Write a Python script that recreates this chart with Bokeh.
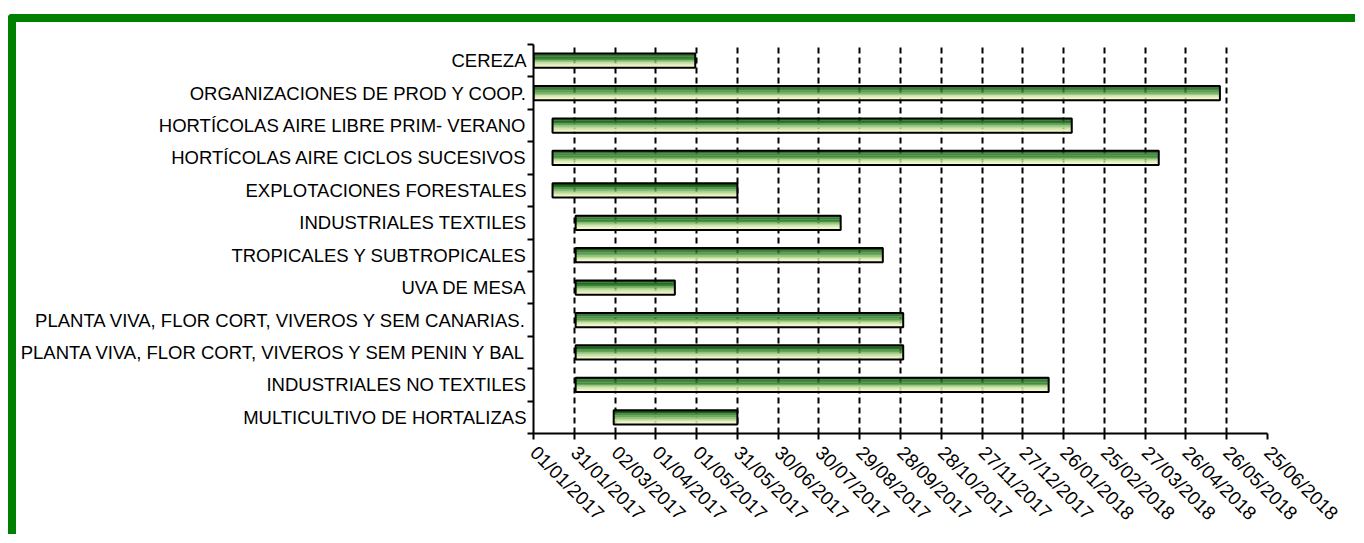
import datetime as dt
import math
import numpy as np
from bokeh.plotting import figure
from bokeh.models import Range1d, FixedTicker, DatetimeTickFormatter, ColumnDataSource
from bokeh.embed import file_html
from bokeh.resources import INLINE

# ---------------- data ----------------
categories = [
    "CEREZA",
    "ORGANIZACIONES DE PROD Y COOP.",
    "HORTÍCOLAS AIRE LIBRE PRIM- VERANO",
    "HORTÍCOLAS AIRE CICLOS SUCESIVOS",
    "EXPLOTACIONES FORESTALES",
    "INDUSTRIALES TEXTILES",
    "TROPICALES Y SUBTROPICALES",
    "UVA DE MESA",
    "PLANTA VIVA, FLOR CORT, VIVEROS Y SEM CANARIAS.",
    "PLANTA VIVA, FLOR CORT, VIVEROS Y SEM PENIN Y BAL",
    "INDUSTRIALES NO TEXTILES",
    "MULTICULTIVO DE HORTALIZAS",
]
start_dates = [
    "01/01/2017", "01/01/2017", "15/01/2017", "15/01/2017", "15/01/2017",
    "01/02/2017", "01/02/2017", "01/02/2017", "01/02/2017", "01/02/2017",
    "01/02/2017", "01/03/2017",
]
end_dates = [
    "30/04/2017", "21/05/2018", "01/02/2018", "06/04/2018", "31/05/2017",
    "15/08/2017", "15/09/2017", "15/04/2017", "30/09/2017", "30/09/2017",
    "15/01/2018", "31/05/2017",
]
tick_labels = [
    "01/01/2017", "31/01/2017", "02/03/2017", "01/04/2017", "01/05/2017",
    "31/05/2017", "30/06/2017", "30/07/2017", "29/08/2017", "28/09/2017",
    "28/10/2017", "27/11/2017", "27/12/2017", "26/01/2018", "25/02/2018",
    "27/03/2018", "26/04/2018", "26/05/2018", "25/06/2018",
]


def to_ms(s):
    d = dt.datetime.strptime(s, "%d/%m/%Y").replace(tzinfo=dt.timezone.utc)
    return d.timestamp() * 1000.0


starts = np.array([to_ms(s) for s in start_dates])
ends = np.array([to_ms(s) for s in end_dates])
ticks = [to_ms(s) for s in tick_labels]
n = len(categories)
ycenters = np.array([n - 0.5 - i for i in range(n)])

FONT = "Liberation Sans"

p = figure(
    width=1347, height=520,
    output_backend="svg", toolbar_location=None,
    x_axis_type="datetime",
    x_range=Range1d(ticks[0], ticks[-1]),
    y_range=Range1d(0, n),
    min_border_left=517, min_border_right=96,
    min_border_top=22, min_border_bottom=109,
)
p.styles = {
    "border-left": "8px solid #008000",
    "border-top": "8px solid #008000",
    "border-top-left-radius": "4px",
    "margin-left": "8px",
    "margin-top": "14px",
}
p.outline_line_color = None
p.background_fill_color = "white"
p.border_fill_color = "white"

# ---------------- gradient bars ----------------
H = 0.44
N = 16
stops = [
    (0.0, (0, 70, 0)),
    (0.42, (70, 145, 60)),
    (0.65, (180, 215, 145)),
    (0.85, (238, 243, 192)),
    (1.0, (250, 250, 214)),
]


def color_at(t):
    for (t0, c0), (t1, c1) in zip(stops[:-1], stops[1:]):
        if t <= t1:
            f = (t - t0) / (t1 - t0)
            c = [round(a + (b - a) * f) for a, b in zip(c0, c1)]
            return "#%02x%02x%02x" % tuple(c)
    return "#%02x%02x%02x" % stops[-1][1]


for k in range(N):
    t = (k + 0.5) / N
    yk = ycenters + H / 2 - (k + 0.5) * H / N
    src = ColumnDataSource(dict(y=yk, left=starts, right=ends))
    p.hbar(y="y", left="left", right="right", height=H / N * 1.15, source=src,
           fill_color=color_at(t), line_color=None)

outline_src = ColumnDataSource(dict(y=ycenters, left=starts, right=ends, name=categories))
p.hbar(y="y", left="left", right="right", height=H, source=outline_src,
       fill_alpha=0, line_color="black", line_width=2)

# ---------------- axes ----------------
xt = FixedTicker(ticks=ticks)
p.xaxis.ticker = xt
p.xgrid.ticker = xt
fmt = "%d/%m/%Y"
p.xaxis.formatter = DatetimeTickFormatter(
    milliseconds=fmt, seconds=fmt, minsec=fmt, minutes=fmt, hourmin=fmt,
    hours=fmt, days=fmt, months=fmt, years=fmt)
p.xaxis.major_label_orientation = -math.pi / 4
p.xaxis.major_label_text_font = FONT
p.xaxis.major_label_text_font_size = "19px"
p.xaxis.major_label_text_color = "black"
p.xaxis.major_tick_out = 6
p.xaxis.major_tick_in = 0
p.xaxis.minor_tick_out = 0
p.xaxis.minor_tick_in = 0
p.xaxis.axis_line_width = 2
p.xaxis.axis_line_color = "black"
p.xaxis.major_tick_line_width = 2
p.xaxis.major_tick_line_color = "black"
p.xaxis.major_label_standoff = 10

p.xgrid.grid_line_color = "black"
p.xgrid.grid_line_dash = "6 4"
p.xgrid.grid_line_width = 2
p.ygrid.grid_line_color = None

yt = FixedTicker(ticks=list(ycenters), minor_ticks=list(range(n + 1)))
p.yaxis.ticker = yt
p.yaxis.major_label_overrides = {float(y): c for y, c in zip(ycenters, categories)}
p.yaxis.major_label_text_font = FONT
p.yaxis.major_label_text_font_size = "18.5px"
p.yaxis.major_label_text_color = "black"
p.yaxis.major_tick_out = 0
p.yaxis.major_tick_in = 0
p.yaxis.minor_tick_out = 6
p.yaxis.minor_tick_in = 0
p.yaxis.minor_tick_line_color = "black"
p.yaxis.minor_tick_line_width = 2
p.yaxis.axis_line_width = 2
p.yaxis.axis_line_color = "black"
p.yaxis.major_label_standoff = 1

open("out.html", "w").write(file_html(p, INLINE))
